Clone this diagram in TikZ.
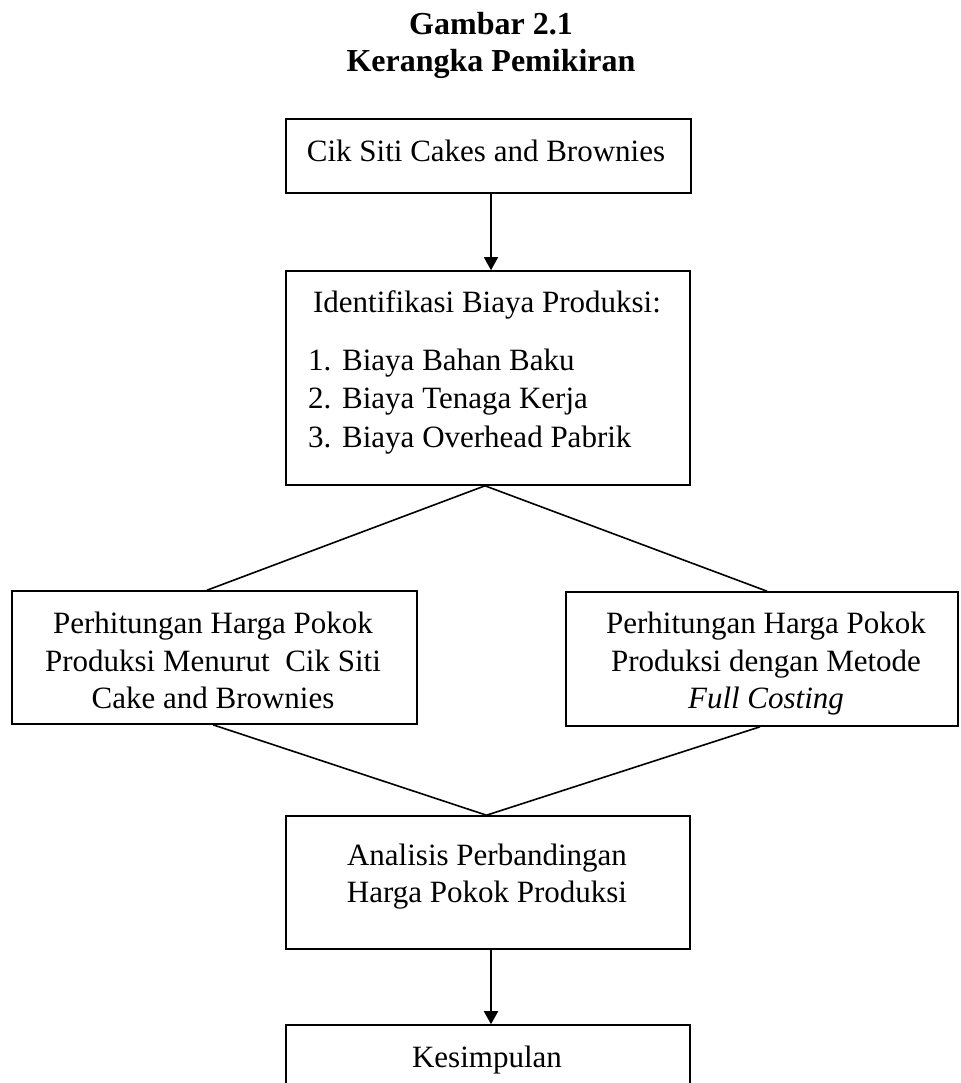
\documentclass[tikz,border=0pt]{standalone}
\usepackage{fontspec}
\setmainfont{Liberation Serif}
\usetikzlibrary{arrows.meta}
\begin{document}
\begin{tikzpicture}[x=1pt,y=-1pt,
  box/.style={draw, line width=1.6pt, inner sep=0pt, minimum width=#1},
  ln/.style={anchor=base, inner sep=0pt, font=\fontsize{31}{37}\selectfont},
  lnw/.style={anchor=base west, inner sep=0pt, font=\fontsize{31}{37}\selectfont},
  ttl/.style={anchor=base, inner sep=0pt, font=\fontsize{32}{38}\selectfont\bfseries},
  conn/.style={line width=1.6pt},
  arr/.style={line width=1.6pt, -{Triangle[length=13pt,width=14pt]}}
]
\useasboundingbox (0,0) rectangle (960,1083);
% title
\node[ttl] (title1) at (491,35) {Gambar 2.1};
\node[ttl] (title2) at (491,72) {Kerangka Pemikiran};
% boxes
\node[box=405pt, minimum height=74pt] (b1) at (488.5,156) {};
\node[box=404pt, minimum height=214pt] (b2) at (488,378) {};
\node[box=405pt, minimum height=133pt] (lb) at (214.5,657.5) {};
\node[box=392pt, minimum height=134pt] (rb) at (762,659) {};
\node[box=404pt, minimum height=133pt] (an) at (488,882.5) {};
\node[box=404pt, minimum height=110pt] (ks) at (488,1080) {};
% texts
\node[ln] (t1) at (486,162) {Cik Siti Cakes and Brownies};
\node[ln] (t2a) at (487,312) {Identifikasi Biaya Produksi:};
\node[lnw] (t2b) at (308,370) {\makebox[34pt][l]{1.}Biaya Bahan Baku};
\node[lnw] (t2c) at (308,408) {\makebox[34pt][l]{2.}Biaya Tenaga Kerja};
\node[lnw] (t2d) at (308,447) {\makebox[34pt][l]{3.}Biaya Overhead Pabrik};
\node[ln] (tla) at (213,633) {Perhitungan Harga Pokok};
\node[ln] (tlb) at (213,671) {Produksi Menurut\ \ Cik Siti};
\node[ln] (tlc) at (213,708) {Cake and Brownies};
\node[ln] (tra) at (766,633) {Perhitungan Harga Pokok};
\node[ln] (trb) at (766,671) {Produksi dengan Metode};
\node[ln] (trc) at (766,708) {\itshape Full Costing};
\node[ln] (taa) at (487,865) {Analisis Perbandingan};
\node[ln] (tab) at (487,902) {Harga Pokok Produksi};
\node[ln] (tk) at (487,1067) {Kesimpulan};
% connectors
\draw[arr] ([xshift=2.5pt]b1.south) -- ([xshift=3pt]b2.north);
\draw[conn] ([xshift=-3pt]b2.south) -- ([xshift=-7.5pt]lb.north);
\draw[conn] ([xshift=-3pt]b2.south) -- ([xshift=5pt]rb.north);
\draw[conn] ([xshift=-1.5pt]lb.south) -- ([xshift=-1.5pt]an.north);
\draw[conn] ([xshift=-2pt]rb.south) -- ([xshift=-1.5pt]an.north);
\draw[arr] ([xshift=3pt]an.south) -- ([xshift=3pt]ks.north);
\end{tikzpicture}
\end{document}
